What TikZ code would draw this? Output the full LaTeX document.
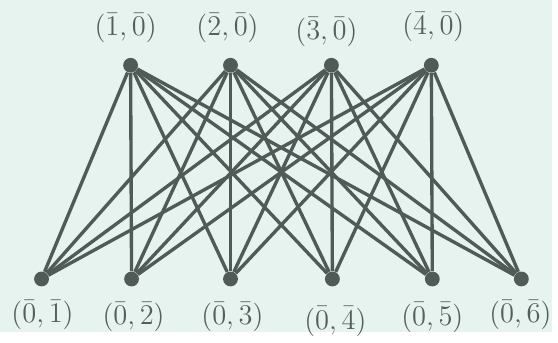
\documentclass[tikz,border=0pt]{standalone}
\usepackage{amsmath}
\usepackage{tikz}
\usetikzlibrary{calc}

\definecolor{mintbg}{RGB}{230,243,238}
\definecolor{vertgray}{RGB}{80,90,86}
\definecolor{labelgray}{RGB}{85,95,92}

\begin{document}
\begin{tikzpicture}[x=0.5pt, y=-0.5pt,
    vert/.style={circle, fill=vertgray, inner sep=0pt, minimum size=7.5pt},
    lab/.style={text=labelgray, font=\fontsize{14}{16}\selectfont},
    edge/.style={draw=vertgray, line width=1.7pt}]
    \fill[mintbg] (0,0) rectangle (558,336);

    \node[vert] (t1) at (132,66) {};
    \node[vert] (t2) at ($(t1) + (101, 0)$) {};
    \node[vert] (t3) at ($(t1) + (203, 0)$) {};
    \node[vert] (t4) at ($(t1) + (304, 0)$) {};

    \node[vert] (b1) at (42,282) {};
    \node[vert] (b2) at ($(b1) + (91, 0)$) {};
    \node[vert] (b3) at ($(b1) + (191, 0)$) {};
    \node[vert] (b4) at ($(b1) + (294, 0)$) {};
    \node[vert] (b5) at ($(b1) + (395, 0)$) {};
    \node[vert] (b6) at ($(b1) + (485, 0)$) {};

    \node[lab] (lt1) at (127,28) {$(\bar{1},\bar{0})$};
    \node[lab] (lt2) at (230,28) {$(\bar{2},\bar{0})$};
    \node[lab] (lt3) at (330,32) {$(\bar{3},\bar{0})$};
    \node[lab] (lt4) at (438,27) {$(\bar{4},\bar{0})$};

    \node[lab] (lb1) at (43,318) {$(\bar{0},\bar{1})$};
    \node[lab] (lb2) at (135,320) {$(\bar{0},\bar{2})$};
    \node[lab] (lb3) at (235,320) {$(\bar{0},\bar{3})$};
    \node[lab] (lb4) at (339,325) {$(\bar{0},\bar{4})$};
    \node[lab] (lb5) at (437,321) {$(\bar{0},\bar{5})$};
    \node[lab] (lb6) at (526,318) {$(\bar{0},\bar{6})$};

    \draw[edge] (t1) -- (b1);
    \draw[edge] (t1) -- (b2);
    \draw[edge] (t1) -- (b3);
    \draw[edge] (t1) -- (b4);
    \draw[edge] (t1) -- (b5);
    \draw[edge] (t1) -- (b6);

    \draw[edge] (t2) -- (b1);
    \draw[edge] (t2) -- (b2);
    \draw[edge] (t2) -- (b3);
    \draw[edge] (t2) -- (b4);
    \draw[edge] (t2) -- (b5);
    \draw[edge] (t2) -- (b6);

    \draw[edge] (t3) -- (b1);
    \draw[edge] (t3) -- (b2);
    \draw[edge] (t3) -- (b3);
    \draw[edge] (t3) -- (b4);
    \draw[edge] (t3) -- (b5);
    \draw[edge] (t3) -- (b6);

    \draw[edge] (t4) -- (b1);
    \draw[edge] (t4) -- (b2);
    \draw[edge] (t4) -- (b3);
    \draw[edge] (t4) -- (b4);
    \draw[edge] (t4) -- (b5);
    \draw[edge] (t4) -- (b6);

\end{tikzpicture}
\end{document}
